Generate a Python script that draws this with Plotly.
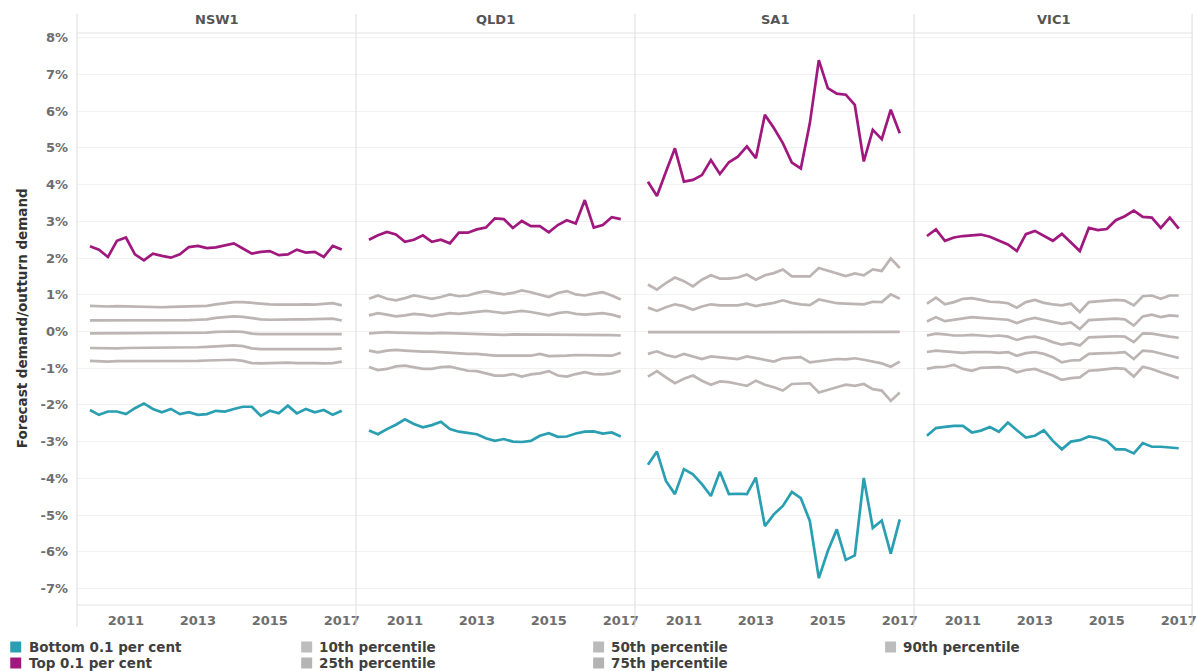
import plotly.graph_objects as go
from plotly.subplots import make_subplots

# ---------------- data ----------------
quarters = [2010 + 0.25 * i for i in range(29)]  # 2010 Q1 .. 2017 Q1
regions = ["NSW1", "QLD1", "SA1", "VIC1"]
year_ticks = [2011, 2013, 2015, 2017]
pct_ticks = [-7, -6, -5, -4, -3, -2, -1, 0, 1, 2, 3, 4, 5, 6, 7, 8]

nsw_top = [2.32, 2.23, 2.03, 2.47, 2.56, 2.10, 1.94, 2.12, 2.06, 2.01, 2.10, 2.30, 2.33, 2.27, 2.29,
           2.35, 2.40, 2.26, 2.12, 2.17, 2.19, 2.08, 2.10, 2.23, 2.15, 2.17, 2.03, 2.33, 2.23]
nsw_p90 = [0.70, 0.68, 0.68, 0.69, 0.68, 0.67, 0.67, 0.66, 0.66, 0.67, 0.68, 0.69, 0.70, 0.70, 0.74,
           0.78, 0.80, 0.80, 0.78, 0.74, 0.74, 0.73, 0.72, 0.73, 0.74, 0.73, 0.75, 0.77, 0.71]
nsw_p75 = [0.30, 0.30, 0.30, 0.30, 0.30, 0.29, 0.29, 0.29, 0.29, 0.30, 0.30, 0.31, 0.32, 0.33, 0.37,
           0.40, 0.41, 0.40, 0.36, 0.33, 0.32, 0.33, 0.33, 0.33, 0.33, 0.33, 0.34, 0.35, 0.30]
nsw_p50 = [-0.05, -0.05, -0.05, -0.05, -0.05, -0.05, -0.05, -0.05, -0.05, -0.05, -0.05, -0.04, -0.03, -0.03, -0.01,
           0.00, 0.00, -0.01, -0.06, -0.07, -0.07, -0.07, -0.07, -0.07, -0.07, -0.07, -0.07, -0.07, -0.07]
nsw_p25 = [-0.45, -0.46, -0.46, -0.46, -0.45, -0.45, -0.44, -0.44, -0.44, -0.44, -0.45, -0.44, -0.43, -0.42, -0.40,
           -0.39, -0.38, -0.40, -0.46, -0.48, -0.48, -0.47, -0.48, -0.48, -0.49, -0.49, -0.49, -0.48, -0.46]
nsw_p10 = [-0.80, -0.82, -0.82, -0.81, -0.81, -0.80, -0.80, -0.80, -0.80, -0.81, -0.82, -0.81, -0.80, -0.79, -0.78,
           -0.77, -0.77, -0.80, -0.86, -0.87, -0.86, -0.85, -0.85, -0.86, -0.85, -0.86, -0.87, -0.86, -0.82]
nsw_bot = [-2.14, -2.27, -2.18, -2.18, -2.25, -2.09, -1.96, -2.11, -2.20, -2.11, -2.25, -2.20, -2.27, -2.25, -2.16,
           -2.18, -2.11, -2.05, -2.05, -2.30, -2.16, -2.23, -2.02, -2.23, -2.11, -2.20, -2.14, -2.27, -2.16]

qld_top = [2.50, 2.62, 2.71, 2.64, 2.44, 2.50, 2.62, 2.44, 2.50, 2.40, 2.69, 2.69, 2.78, 2.83, 3.08,
           3.06, 2.82, 3.01, 2.87, 2.87, 2.70, 2.90, 3.03, 2.94, 3.58, 2.83, 2.90, 3.11, 3.06]
qld_p90 = [0.89, 0.98, 0.89, 0.85, 0.91, 0.98, 0.94, 0.89, 0.94, 1.01, 0.96, 0.98, 1.05, 1.10, 1.05,
           1.01, 1.05, 1.12, 1.07, 1.01, 0.94, 1.05, 1.10, 1.01, 0.98, 1.03, 1.07, 0.98, 0.87]
qld_p75 = [0.44, 0.50, 0.46, 0.41, 0.44, 0.48, 0.46, 0.42, 0.46, 0.50, 0.48, 0.50, 0.53, 0.56, 0.53,
           0.50, 0.53, 0.56, 0.53, 0.48, 0.44, 0.50, 0.53, 0.48, 0.46, 0.48, 0.50, 0.46, 0.39]
qld_p50 = [-0.05, -0.03, -0.02, -0.03, -0.04, -0.05, -0.05, -0.05, -0.04, -0.05, -0.06, -0.06, -0.06, -0.07, -0.08,
           -0.09, -0.08, -0.08, -0.08, -0.08, -0.09, -0.10, -0.09, -0.09, -0.09, -0.09, -0.09, -0.10, -0.11]
qld_p25 = [-0.52, -0.57, -0.52, -0.50, -0.52, -0.54, -0.55, -0.55, -0.57, -0.57, -0.59, -0.61, -0.61, -0.64, -0.66,
           -0.66, -0.67, -0.66, -0.66, -0.61, -0.67, -0.67, -0.66, -0.64, -0.64, -0.66, -0.66, -0.66, -0.58]
qld_p10 = [-0.97, -1.05, -1.02, -0.95, -0.93, -0.97, -1.02, -1.02, -0.97, -0.96, -1.02, -1.07, -1.08, -1.14, -1.20,
           -1.20, -1.16, -1.23, -1.17, -1.14, -1.08, -1.20, -1.23, -1.16, -1.11, -1.16, -1.17, -1.14, -1.07]
qld_bot = [-2.70, -2.80, -2.66, -2.54, -2.39, -2.52, -2.61, -2.55, -2.46, -2.66, -2.73, -2.77, -2.80, -2.91, -2.98,
           -2.93, -3.00, -3.01, -2.98, -2.84, -2.77, -2.87, -2.86, -2.78, -2.73, -2.72, -2.78, -2.75, -2.86]

sa_top = [4.08, 3.69, 4.35, 4.99, 4.08, 4.13, 4.26, 4.67, 4.29, 4.61, 4.76, 5.04, 4.72, 5.90, 5.54,
          5.13, 4.60, 4.44, 5.67, 7.39, 6.63, 6.48, 6.45, 6.17, 4.63, 5.49, 5.24, 6.04, 5.40]
sa_p90 = [1.28, 1.14, 1.32, 1.47, 1.37, 1.23, 1.41, 1.53, 1.44, 1.44, 1.47, 1.55, 1.41, 1.53, 1.59,
          1.69, 1.50, 1.50, 1.50, 1.73, 1.66, 1.58, 1.51, 1.58, 1.53, 1.69, 1.65, 1.99, 1.73]
sa_p75 = [0.65, 0.56, 0.66, 0.74, 0.69, 0.59, 0.68, 0.74, 0.71, 0.71, 0.71, 0.76, 0.69, 0.74, 0.78,
          0.85, 0.78, 0.74, 0.72, 0.87, 0.82, 0.77, 0.76, 0.76, 0.74, 0.81, 0.80, 1.01, 0.89]
sa_p50 = [-0.02, -0.02, -0.02, -0.02, -0.02, -0.02, -0.02, -0.02, -0.02, -0.02, -0.02, -0.02, -0.02, -0.02, -0.03,
          -0.03, -0.03, -0.02, -0.02, -0.02, -0.02, -0.02, -0.02, -0.02, -0.02, -0.02, -0.01, -0.01, -0.01]
sa_p25 = [-0.61, -0.54, -0.64, -0.70, -0.61, -0.68, -0.75, -0.68, -0.70, -0.72, -0.75, -0.68, -0.72, -0.77, -0.82,
          -0.73, -0.72, -0.70, -0.84, -0.81, -0.77, -0.75, -0.76, -0.73, -0.77, -0.81, -0.87, -0.96, -0.82]
sa_p10 = [-1.23, -1.08, -1.25, -1.41, -1.29, -1.20, -1.34, -1.45, -1.36, -1.38, -1.43, -1.48, -1.34, -1.45, -1.52,
          -1.61, -1.43, -1.43, -1.41, -1.66, -1.60, -1.52, -1.45, -1.48, -1.43, -1.57, -1.61, -1.89, -1.66]
sa_bot = [-3.63, -3.27, -4.07, -4.43, -3.75, -3.89, -4.16, -4.48, -3.82, -4.43, -4.42, -4.43, -3.98, -5.30, -4.98,
          -4.75, -4.37, -4.54, -5.16, -6.72, -5.98, -5.39, -6.22, -6.10, -3.99, -5.35, -5.15, -6.05, -5.12]

vic_top = [2.60, 2.78, 2.47, 2.56, 2.60, 2.62, 2.64, 2.58, 2.47, 2.37, 2.19, 2.65, 2.74, 2.60, 2.47,
           2.66, 2.42, 2.19, 2.82, 2.76, 2.79, 3.03, 3.14, 3.29, 3.12, 3.10, 2.82, 3.10, 2.80]
vic_p90 = [0.76, 0.92, 0.74, 0.80, 0.89, 0.91, 0.86, 0.81, 0.80, 0.77, 0.65, 0.80, 0.86, 0.78, 0.74,
           0.71, 0.76, 0.53, 0.80, 0.81, 0.84, 0.86, 0.84, 0.71, 0.96, 0.98, 0.89, 0.98, 0.98]
vic_p75 = [0.27, 0.39, 0.28, 0.32, 0.37, 0.39, 0.37, 0.35, 0.33, 0.32, 0.23, 0.32, 0.37, 0.31, 0.25,
           0.21, 0.25, 0.07, 0.31, 0.32, 0.33, 0.35, 0.33, 0.16, 0.41, 0.46, 0.39, 0.44, 0.42]
vic_p50 = [-0.11, -0.06, -0.08, -0.11, -0.11, -0.09, -0.11, -0.13, -0.11, -0.14, -0.23, -0.16, -0.14, -0.20, -0.29,
           -0.36, -0.32, -0.38, -0.16, -0.16, -0.14, -0.13, -0.14, -0.29, -0.05, -0.06, -0.11, -0.14, -0.17]
vic_p25 = [-0.56, -0.52, -0.54, -0.56, -0.58, -0.56, -0.55, -0.56, -0.58, -0.56, -0.66, -0.59, -0.56, -0.61, -0.70,
           -0.84, -0.79, -0.78, -0.61, -0.61, -0.59, -0.58, -0.56, -0.75, -0.52, -0.54, -0.61, -0.66, -0.72]
vic_p10 = [-1.02, -0.97, -0.96, -0.91, -1.02, -1.07, -0.99, -0.97, -0.97, -1.00, -1.11, -1.05, -1.02, -1.11, -1.20,
           -1.32, -1.27, -1.25, -1.07, -1.05, -1.02, -1.00, -1.02, -1.23, -0.96, -1.02, -1.11, -1.20, -1.27]
vic_bot = [-2.84, -2.63, -2.60, -2.57, -2.57, -2.75, -2.70, -2.60, -2.73, -2.48, -2.69, -2.89, -2.84, -2.69, -2.98,
           -3.21, -3.00, -2.96, -2.86, -2.90, -2.98, -3.21, -3.21, -3.32, -3.04, -3.14, -3.14, -3.17, -3.18]

series_names = ["Bottom 0.1 per cent", "Top 0.1 per cent", "10th percentile", "25th percentile",
                "50th percentile", "75th percentile", "90th percentile"]

region_data = {
    "NSW1": [nsw_bot, nsw_top, nsw_p10, nsw_p25, nsw_p50, nsw_p75, nsw_p90],
    "QLD1": [qld_bot, qld_top, qld_p10, qld_p25, qld_p50, qld_p75, qld_p90],
    "SA1": [sa_bot, sa_top, sa_p10, sa_p25, sa_p50, sa_p75, sa_p90],
    "VIC1": [vic_bot, vic_top, vic_p10, vic_p25, vic_p50, vic_p75, vic_p90],
}

# ---------------- styles ----------------
CYAN = "#2A9FB2"
MAGENTA = "#A0187E"
LINE_GREY = "#BDB4B4"
series_colors = [CYAN, MAGENTA, LINE_GREY, LINE_GREY, LINE_GREY, LINE_GREY, LINE_GREY]
legend_colors = [CYAN, MAGENTA, "#BDBDBD", "#B5B5B5", "#BABABA", "#B3B3B3", "#BCBCBC"]
FONT = "DejaVu Sans"

W, H = 1197, 671
ML, MR, MT, MB = 77, 0, 33, 66
PW, PH = W - ML - MR, H - MT - MB


def px_x(px):
    return (px - ML) / PW


def px_y(py):
    return (H - MB - py) / PH


fig = make_subplots(rows=1, cols=4, shared_yaxes=True, horizontal_spacing=0)

draw_order = [2, 3, 4, 5, 6, 0, 1]
for c, reg in enumerate(regions, start=1):
    vals = region_data[reg]
    for k in draw_order:
        fig.add_trace(
            go.Scatter(x=quarters, y=vals[k], mode="lines", name=series_names[k],
                       line=dict(color=series_colors[k], width=2.7),
                       showlegend=False, hovertemplate="%{y:.2f}%<extra>" + reg + "</extra>"),
            row=1, col=c)

fig.update_xaxes(range=[2009.64, 2017.396], tickvals=year_ticks, ticktext=[str(y) for y in year_ticks],
                 showgrid=False, zeroline=False, showline=False, ticks="",
                 tickfont=dict(family=FONT, size=13, color="#6E6E6E", weight="bold"),
                 ticklabelstandoff=6)
fig.update_yaxes(range=[-7.45, 8.13], tickvals=pct_ticks, ticktext=[f"{v}%" for v in pct_ticks],
                 showgrid=True, gridcolor="#F1F1F1", gridwidth=1, zeroline=False, showline=False, ticks="",
                 tickfont=dict(family=FONT, size=13, color="#6E6E6E", weight="bold"),
                 ticklabelstandoff=8)

shapes = []
SEP = "#DCDCDC"
for xv in [0, 0.25, 0.5, 0.75, 0.9992]:
    shapes.append(dict(type="line", xref="paper", yref="paper", x0=xv, x1=xv,
                       y0=px_y(627), y1=px_y(14), line=dict(color=SEP, width=1)))
shapes.append(dict(type="line", xref="paper", yref="paper", x0=0, x1=1, y0=1, y1=1,
                   line=dict(color="#E3E3E3", width=1)))
shapes.append(dict(type="line", xref="paper", yref="paper", x0=0, x1=1, y0=0, y1=0,
                   line=dict(color="#E3E3E3", width=1)))

annotations = []
for i, reg in enumerate(regions):
    annotations.append(dict(text=reg, xref="paper", yref="paper", x=0.125 + 0.25 * i, y=px_y(19),
                            showarrow=False, xanchor="center", yanchor="middle",
                            font=dict(family=FONT, size=13, color="#555555", weight="bold")))
annotations.append(dict(text="Forecast demand/outturn demand", xref="paper", yref="paper",
                        x=px_x(22), y=px_y(318), textangle=-90, showarrow=False,
                        xanchor="center", yanchor="middle",
                        font=dict(family=FONT, size=13.5, color="#333333", weight="bold")))

# legend (4 columns x 2 rows, column-major as in the original)
legend_cols = [(10, 27), (302, 318), (595, 611), (888, 904)]
legend_rows = [647, 663]
for idx, name in enumerate(series_names):
    col, row = idx // 2, idx % 2
    sx, tx = legend_cols[col]
    cy = legend_rows[row]
    shapes.append(dict(type="rect", xref="paper", yref="paper",
                       x0=px_x(sx), x1=px_x(sx + 11), y0=px_y(cy + 5.5), y1=px_y(cy - 5.5),
                       fillcolor=legend_colors[idx], line=dict(width=0)))
    annotations.append(dict(text=name, xref="paper", yref="paper", x=px_x(tx), y=px_y(cy),
                            showarrow=False, xanchor="left", yanchor="middle",
                            font=dict(family=FONT, size=13.5, color="#3F3F3F", weight="bold")))

fig.update_layout(width=W, height=H, margin=dict(l=ML, r=MR, t=MT, b=MB),
                  plot_bgcolor="white", paper_bgcolor="white",
                  font=dict(family=FONT, color="#555555"),
                  shapes=shapes, annotations=annotations, showlegend=False)

fig.write_html("out.html", config={"displayModeBar": False},
               post_script="document.body.style.margin='0px';document.body.style.overflow='hidden';")
